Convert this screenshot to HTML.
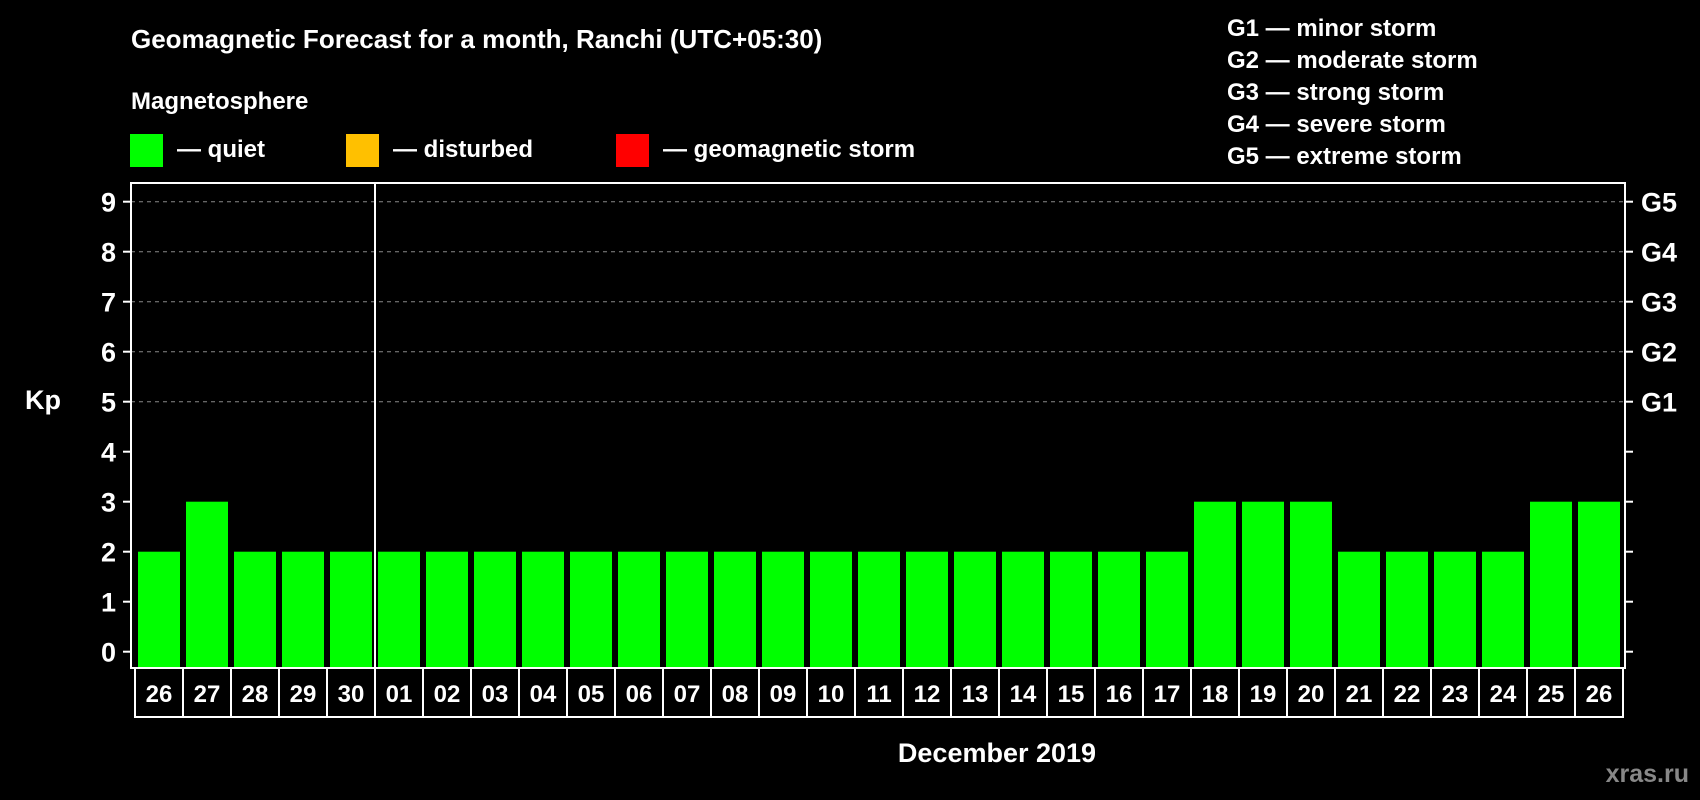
<!DOCTYPE html>
<html><head><meta charset="utf-8"><style>
html,body{margin:0;padding:0;background:#000;}
svg{display:block;font-family:"Liberation Sans",Arial,sans-serif;font-weight:bold;}
</style></head><body>
<svg id="chart" width="1700" height="800" viewBox="0 0 1700 800" xmlns="http://www.w3.org/2000/svg">
<rect width="1700" height="800" fill="#000"/>
<text x="131" y="48" fill="#fff" font-size="26">Geomagnetic Forecast for a month, Ranchi (UTC+05:30)</text>
<text x="131" y="109" fill="#fff" font-size="24">Magnetosphere</text>
<g><rect x="130" y="134" width="33" height="33" fill="#00ff00"/><text x="177" y="157" fill="#fff" font-size="24">— quiet</text></g>
<g><rect x="346" y="134" width="33" height="33" fill="#ffc000"/><text x="393" y="157" fill="#fff" font-size="24">— disturbed</text></g>
<g><rect x="616" y="134" width="33" height="33" fill="#ff0000"/><text x="663" y="157" fill="#fff" font-size="24">— geomagnetic storm</text></g>
<g fill="#fff" font-size="24">
<text x="1227" y="36">G1 — minor storm</text>
<text x="1227" y="68">G2 — moderate storm</text>
<text x="1227" y="100">G3 — strong storm</text>
<text x="1227" y="132">G4 — severe storm</text>
<text x="1227" y="164">G5 — extreme storm</text>
</g>
<text x="43" y="409" fill="#fff" font-size="27" text-anchor="middle">Kp</text>
<g id="grid"></g><g id="bars"></g><g id="axes"></g>
<text x="997" y="762" fill="#fff" font-size="27" text-anchor="middle">December 2019</text>
<text x="1689" y="782" fill="#888" font-size="25" text-anchor="end">xras.ru</text>
</svg>
<script>
const days = ["26","27","28","29","30","01","02","03","04","05","06","07","08","09","10","11","12","13","14","15","16","17","18","19","20","21","22","23","24","25","26"];
const kpValues = [2,3,2,2,2,2,2,2,2,2,2,2,2,2,2,2,2,2,2,2,2,2,3,3,3,2,2,2,2,3,3];
const yTicks = [0,1,2,3,4,5,6,7,8,9];
const gLabels = ["G1","G2","G3","G4","G5"];
const NS="http://www.w3.org/2000/svg";
const L=135, slot=48, y0=651.7, unit=50, plotTop=183, plotBottom=668, plotLeft=131, plotRight=1625;
const X=i=>L+i*slot, Y=v=>y0-v*unit;
function mk(t,a,p){const e=document.createElementNS(NS,t);for(const k in a)e.setAttribute(k,a[k]);p.appendChild(e);return e;}
const grid=document.getElementById('grid'),bars=document.getElementById('bars'),axes=document.getElementById('axes');
yTicks.forEach(v=>{
  if(v>=5){const g=mk('line',{x1:plotLeft,x2:plotRight,y1:Y(v),y2:Y(v),stroke:'#888','stroke-width':1,'stroke-dasharray':'4,4'},grid);
  
  }
  const t=mk('line',{x1:plotLeft-8,x2:plotLeft,y1:Y(v),y2:Y(v),stroke:'#fff','stroke-width':2},axes);
  
  
  const t2=mk('line',{x1:plotRight,x2:plotRight+8,y1:Y(v),y2:Y(v),stroke:'#fff','stroke-width':2},axes);
  
  
  const tx=mk('text',{x:116,y:Y(v)+10,fill:'#fff','font-size':27,'text-anchor':'end'},axes);
  tx.textContent=v;
  
  
});
gLabels.forEach((g,i)=>{
  const tx=mk('text',{x:1641,y:Y(5+i)+10,fill:'#fff','font-size':27},axes);
  tx.textContent=g;
  
  
});
kpValues.forEach((v,i)=>{
  const c=v>=5?'#ff0000':(v>=4?'#ffc000':'#00ff00');
  const b=mk('rect',{x:X(i)+3,y:Y(v),width:42,height:plotBottom-Y(v),fill:c},bars);
  
  
});
const frame=mk('rect',{x:plotLeft,y:plotTop,width:plotRight-plotLeft,height:plotBottom-plotTop,fill:'none',stroke:'#fff','stroke-width':2},axes);


const sep=mk('line',{x1:X(5),x2:X(5),y1:plotTop,y2:plotBottom,stroke:'#fff','stroke-width':2},axes);


days.forEach((d,i)=>{
  const r=mk('rect',{x:X(i),y:plotBottom,width:slot,height:49,fill:'none',stroke:'#fff','stroke-width':2},axes);
  
  
  const t=mk('text',{x:X(i)+slot/2,y:plotBottom+34,fill:'#fff','font-size':24,'text-anchor':'middle'},axes);
  t.textContent=d;
  
  
});
</script>
</body></html>
